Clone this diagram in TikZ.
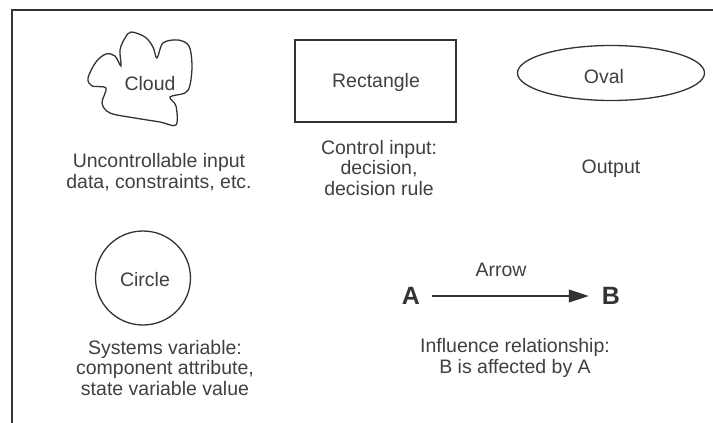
\documentclass[tikz,border=0pt]{standalone}
\usepackage{fontspec}
\setmainfont{Liberation Sans}
\usetikzlibrary{shapes.geometric,arrows.meta}
\begin{document}
\begin{tikzpicture}[x=1pt,y=-1pt,
  shp/.style={draw=black!80,line width=1.3pt},
  lbl/.style={font=\fontsize{19.5}{20.5}\selectfont,text=black!75,align=center,inner sep=0pt},
  big/.style={font=\fontsize{25}{28}\selectfont\bfseries,text=black!80,inner sep=0pt}]
\useasboundingbox (0,0) rectangle (713,423);
\fill[white] (0,0) rectangle (713,423);
% frame
\coordinate (fl) at (12,423);
\coordinate (ftl) at (12,10);
\coordinate (ftr) at (713,10);
\draw[black!80,line width=1.2pt] (fl) -- (ftl) -- (ftr);
% cloud
\draw[shp] plot[smooth cycle,tension=0.55] coordinates {
 (131,32) (145,37) (153,47) (157,58) (163,43) (178,40) (189,46) (192,65)
 (190,85) (185,93) (170,97) (176,106) (176,125) (160,122) (135,118)
 (110,113) (102,103) (106,88) (92,86) (88,78) (96,62) (106,54) (115,56)
 (121,66) (120,50) (125,38)};
\node[lbl] (cloud) at (150,84) {Cloud};
\node[lbl] (cloudt) at (159,172) {Uncontrollable input\\data, constraints, etc.};
% rectangle
\node[shp,rectangle,minimum width=161pt,minimum height=82pt] (rect) at (375.5,81) {};
\node[lbl] at (376,82) {Rectangle};
\node[lbl] (rectt) at (379,168) {Control input:\\decision,\\decision rule};
% oval
\node[shp,ellipse,minimum width=187pt,minimum height=55pt] (oval) at (611,73) {};
\node[lbl] at (604,77) {Oval};
\node[lbl] (ovalt) at (611,169) {Output};
% circle
\node[shp,ellipse,minimum width=95pt,minimum height=94pt] (circ) at (143,278) {};
\node[lbl] at (145,280) {Circle};
\node[lbl] (circt) at (165,368) {Systems variable:\\component attribute,\\state variable value};
% arrow
\node[big] (A) at (411,296) {A};
\node[big] (B) at (611,296) {B};
\draw[black!80,line width=1.1pt,-{Triangle[length=20pt,width=13pt]}] ([xshift=12pt]A.east) -- ([xshift=-13pt]B.west);
\node[lbl] (arrl) at (501,270) {Arrow};
\node[lbl] (arrt) at (515,358) {Influence relationship:\\B is affected by A};
\end{tikzpicture}
\end{document}
